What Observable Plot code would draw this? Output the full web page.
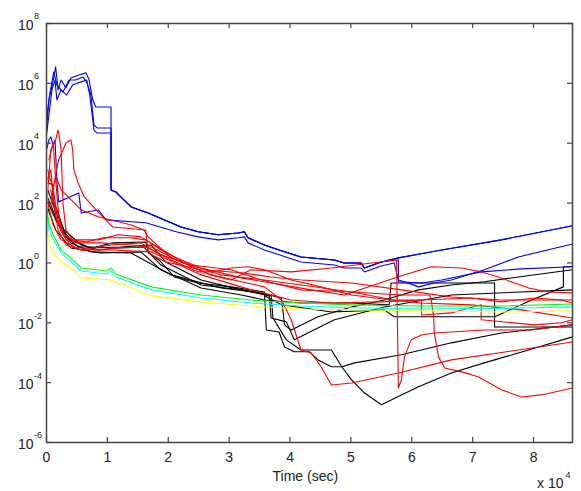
<!DOCTYPE html>
<html>
<head>
<meta charset="utf-8">
<script src="https://cdn.jsdelivr.net/npm/d3@7"></script>
<script src="https://cdn.jsdelivr.net/npm/@observablehq/plot@0.6"></script>
<style>
  html, body { margin: 0; padding: 0; background: #fff; }
  #chart svg { display: block; font-family: "Liberation Sans", Arial, sans-serif; }
</style>
</head>
<body>
<div id="chart"></div>
<script>
// Time in units of 10^4 sec; values given as log10 of the plotted quantity.
const xTicks = [0, 1, 2, 3, 4, 5, 6, 7, 8];
const yExps = [-6, -4, -2, 0, 2, 4, 6, 8];
const xLabel = "Time (sec)";

const blue1 = [[0,4.44],[0.04,5.45],[0.11,6.11],[0.15,6.55],[0.19,5.78],[0.24,6.11],[0.32,5.85],[0.40,6.18],[0.53,6.28],[0.65,6.35],[0.70,6.11],[0.76,5.45],[0.81,5.21],[1.06,5.21],[1.06,2.44],[1.14,2.37],[1.22,2.21],[1.39,1.87],[1.67,1.67],[1.93,1.44],[2.21,1.20],[2.49,1.04],[2.82,0.94],[3.15,1.00],[3.25,1.04],[3.31,0.84],[3.58,0.60],[3.82,0.43],[4.18,0.20],[4.73,0.10],[4.89,0.00],[5.17,0.00],[5.22,-0.17],[5.50,0.03],[5.78,0.17],[6.49,0.43],[7.47,0.77],[8.64,1.24]];
const blue2 = [[0,4.28],[0.04,4.95],[0.09,5.78],[0.14,6.11],[0.17,5.45],[0.24,5.78],[0.33,5.61],[0.43,5.95],[0.57,6.05],[0.66,6.11],[0.71,5.61],[0.78,4.44],[0.83,4.34],[1.06,4.34],[1.06,2.44],[1.14,2.37],[1.22,2.21],[1.39,1.87],[1.67,1.67],[1.93,1.44],[2.21,1.20],[2.49,1.04],[2.82,0.94],[3.15,1.00],[3.25,1.04],[3.31,0.84],[3.58,0.60],[3.82,0.43],[4.18,0.20],[4.73,0.10],[4.89,0.00],[5.17,0.00],[5.22,-0.17],[5.50,0.03],[5.71,0.10],[5.78,0.10],[5.78,-0.63],[6.16,-0.67],[6.49,-0.57],[7.14,-0.30],[7.80,-0.20],[8.64,-0.13]];
const blue3 = [[0,4.78],[0.05,5.61],[0.12,6.38],[0.17,5.95],[0.27,5.71],[0.37,6.11],[0.48,6.11],[0.60,6.21],[0.66,6.05],[0.73,5.61],[0.78,4.61],[0.83,4.51],[1.06,4.51],[1.06,2.44],[1.14,2.37],[1.22,2.21],[1.39,1.87],[1.67,1.67],[1.93,1.44],[2.21,1.20],[2.49,1.04],[2.82,0.94],[3.15,1.00],[3.25,1.04],[3.31,0.84],[3.58,0.60],[3.82,0.43],[4.18,0.20],[4.73,0.10],[4.89,0.00],[5.17,0.00],[5.22,-0.17],[5.50,0.03],[5.78,0.17],[6.49,0.43],[7.47,0.77],[8.64,1.24]];
const blue4 = [[0,3.78],[0.04,4.11],[0.07,4.21],[0.11,3.94],[0.14,4.11],[0.17,2.77],[0.20,2.04],[0.53,2.34],[0.57,1.67],[0.85,1.77],[0.98,1.44],[1.63,1.34],[2.13,1.04],[2.49,0.87],[2.82,0.77],[3.15,0.84],[3.25,0.87],[3.31,0.67],[3.58,0.43],[3.82,0.27],[4.18,0.03],[4.73,-0.07],[4.89,-0.17],[5.17,-0.17],[5.22,-0.30],[5.50,-0.10],[5.71,0.00],[5.78,-0.57],[5.88,-0.63],[6.11,-0.80],[6.37,-0.67],[6.65,-0.57],[7.19,-0.23],[7.75,0.20],[8.64,0.63]];

const red1 = [[0.01,2.10],[0.07,3.78],[0.15,4.11],[0.19,4.44],[0.20,4.34],[0.24,3.78],[0.27,2.00],[0.32,1.10],[0.43,0.77],[0.65,0.70],[0.93,0.84],[1.36,0.84],[1.63,0.77],[1.88,0.43],[2.13,0.17],[2.54,-0.17],[3.20,-0.50],[3.69,-0.67],[4.35,-0.90],[4.89,-1.07],[5.83,-0.43],[6.32,-0.13],[6.82,-0.17],[7.14,-0.30],[7.42,-0.47],[7.69,-0.67],[7.92,-0.84],[8.25,-0.97],[8.64,-1.00]];
const red2 = [[0.07,1.94],[0.15,2.94],[0.20,3.44],[0.32,4.01],[0.40,4.11],[0.43,3.78],[0.45,3.11],[0.52,2.67],[0.62,2.21],[0.86,1.67],[1.09,1.20],[1.63,1.10],[1.67,0.33],[1.96,0.03],[2.54,-0.23],[3.20,-0.33],[3.69,-0.47],[4.18,-0.57],[5.01,-0.67],[5.83,-0.90],[6.65,-1.14],[7.47,-1.24],[8.64,-1.24]];
const red3 = [[0.15,2.94],[0.24,2.44],[0.57,1.77],[0.85,1.54],[1.39,1.27],[1.60,1.10],[1.67,0.87],[2.05,0.17],[2.70,-0.40],[3.58,-0.80],[3.86,-1.24],[4.02,-1.90],[4.18,-2.91],[4.35,-3.01],[4.51,-3.47],[4.68,-4.08],[5.01,-4.01],[5.78,-3.68],[6.65,-3.24],[7.75,-2.91],[8.64,-2.64]];
const red4 = [[0.04,3.44],[0.11,4.01],[0.15,2.77],[0.20,1.60],[0.27,0.94],[0.43,0.53],[0.81,0.43],[1.19,0.50],[1.63,0.53],[2.05,0.10],[2.49,-0.30],[2.75,-0.30],[3.03,-0.17],[3.31,-0.13],[3.58,-0.23],[4.02,-0.57],[4.51,-0.80],[5.01,-1.07],[5.66,-1.24],[6.16,-1.34],[6.98,-1.40],[7.80,-1.57],[8.64,-1.84]];
const red5 = [[0.02,3.11],[0.11,2.44],[0.19,1.44],[0.32,0.77],[0.45,0.77],[0.85,0.77],[1.17,0.94],[1.55,0.87],[1.83,0.53],[2.10,0.20],[2.38,-0.13],[2.70,-0.40],[3.03,-0.57],[3.36,-0.23],[4.02,-0.30],[4.68,-0.17],[5.34,0.00],[5.75,0.10],[5.78,-4.18],[5.83,-3.91],[5.88,-3.14],[5.99,-2.57],[6.16,-2.41],[6.37,-2.34],[7.19,-2.24],[7.97,-2.24],[8.64,-2.07]];
const red6 = [[0.01,2.77],[0.07,3.11],[0.12,2.10],[0.19,1.10],[0.32,0.60],[0.57,0.43],[1.06,0.60],[1.55,0.67],[1.88,0.27],[2.38,-0.07],[3.03,-0.23],[3.53,-0.57],[4.18,-0.90],[5.01,-0.97],[5.83,-1.07],[6.29,-1.07],[6.32,-1.24],[6.36,-1.80],[6.37,-2.34],[6.44,-3.14],[6.54,-3.51],[6.82,-3.64],[7.10,-3.81],[7.47,-4.24],[7.80,-4.48],[8.13,-4.41],[8.64,-4.18]];
const red7 = [[0.07,2.44],[0.15,1.60],[0.24,1.04],[0.48,0.67],[0.89,0.67],[1.39,0.60],[1.72,0.53],[2.21,0.03],[2.87,-0.40],[3.58,-0.57],[4.18,-0.74],[5.01,-0.97],[5.71,-1.24],[6.16,-1.24],[6.16,-1.74],[6.65,-1.67],[7.14,-1.40],[7.14,-1.90],[8.02,-2.07],[8.46,-2.00],[8.64,-1.90]];
const red8 = [[0.01,2.10],[0.11,1.27],[0.24,0.77],[0.57,0.43],[1.06,0.43],[1.72,0.37],[2.54,-0.40],[3.36,-0.90],[4.02,-1.24],[4.68,-1.34],[5.50,-1.30],[6.16,-1.24],[6.98,-1.17],[7.47,-1.30],[8.02,-1.17],[8.46,-1.24],[8.64,-1.34]];

const black1 = [[0.02,2.67],[0.11,2.61],[0.11,2.10],[0.19,1.67],[0.32,0.87],[0.53,0.53],[0.81,0.53],[1.09,0.67],[1.63,0.70],[1.68,0.33],[1.85,0.10],[2.10,-0.47],[2.49,-0.67],[3.03,-0.80],[3.58,-0.97],[3.61,-2.24],[3.82,-2.31],[3.91,-2.81],[4.07,-2.97],[4.32,-2.97],[4.46,-3.24],[4.68,-3.47],[4.85,-3.47],[5.01,-3.91],[5.22,-4.34],[5.50,-4.74],[6.11,-4.14],[6.65,-3.68],[7.19,-3.34],[7.75,-3.01],[8.64,-2.47]];
const black2 = [[0.02,2.44],[0.12,1.87],[0.29,1.10],[0.57,0.60],[0.85,0.43],[1.17,0.50],[1.60,0.53],[1.88,-0.07],[2.54,-0.74],[3.20,-0.90],[3.69,-1.07],[3.72,-1.84],[3.94,-2.57],[4.18,-2.91],[4.68,-2.91],[4.85,-3.47],[5.06,-3.34],[5.83,-3.07],[6.65,-2.67],[7.47,-2.34],[8.64,-2.07]];
const black3 = [[0.01,2.10],[0.15,1.44],[0.40,0.67],[0.73,0.37],[1.39,0.33],[2.05,-0.40],[2.87,-0.84],[3.53,-1.00],[3.86,-1.17],[3.91,-2.07],[4.02,-2.24],[4.46,-1.80],[5.01,-1.47],[5.55,-1.24],[6.11,-0.90],[6.65,-0.74],[7.19,-0.63],[7.75,-0.47],[8.64,-0.23]];
const black4 = [[0,2.27],[0.07,1.94],[0.20,1.27],[0.40,0.77],[0.73,0.50],[1.22,0.53],[1.72,0.60],[1.96,0.03],[2.54,-0.57],[3.20,-0.90],[3.44,-1.00],[3.66,-1.10],[3.69,-1.84],[3.94,-1.97],[4.07,-2.57],[4.73,-1.90],[5.55,-1.47],[6.65,-1.07],[8.64,-0.90]];
const black5 = [[0,1.94],[0.15,1.10],[0.40,0.50],[0.89,0.33],[1.55,0.37],[1.88,-0.23],[2.54,-0.84],[3.20,-1.07],[3.58,-1.24],[4.18,-1.34],[5.01,-1.34],[5.63,-1.40],[5.66,-0.67],[7.36,-0.67],[7.36,-2.14],[8.64,-2.14]];
const black6 = [[3.58,-1.10],[3.86,-1.40],[4.68,-1.64],[5.55,-1.57],[5.71,-1.80],[7.36,-1.80],[7.97,-1.24],[8.49,-0.80],[8.49,-0.13],[8.64,-0.13]];

const green1 = [[0.01,1.80],[0.04,1.30],[0.11,0.94],[0.24,0.43],[0.43,0.10],[0.57,-0.17],[0.98,-0.27],[1.06,-0.17],[1.14,-0.37],[1.72,-0.80],[2.54,-1.07],[3.36,-1.24],[4.18,-1.34],[5.01,-1.40],[6.16,-1.44],[7.47,-1.44],[8.64,-1.37]];
const cyan1 = [[0.01,1.60],[0.04,1.10],[0.11,0.80],[0.24,0.33],[0.43,0.00],[0.57,-0.27],[0.98,-0.37],[1.06,-0.27],[1.14,-0.47],[1.72,-0.90],[2.54,-1.17],[3.36,-1.34],[4.18,-1.44],[5.01,-1.50],[6.16,-1.54],[7.47,-1.52],[8.64,-1.47]];
const yellow1 = [[0,4.00],[0.01,2.10],[0.02,0.94],[0.07,0.50],[0.15,0.23],[0.27,0.00],[0.43,-0.23],[0.57,-0.50],[1.06,-0.57],[1.72,-1.10],[2.54,-1.30],[3.36,-1.44],[4.18,-1.54],[5.01,-1.57],[6.16,-1.60],[7.47,-1.64],[8.64,-1.60]];

const series = [
  {color: "#000000", pts: black1}, {color: "#000000", pts: black2}, {color: "#000000", pts: black3},
  {color: "#000000", pts: black4}, {color: "#000000", pts: black5}, {color: "#000000", pts: black6},
  {color: "#0000ff", pts: blue1}, {color: "#0000ff", pts: blue2}, {color: "#0000ff", pts: blue3}, {color: "#0000ff", pts: blue4},
  {color: "#ff0000", pts: red1}, {color: "#ff0000", pts: red2}, {color: "#ff0000", pts: red3}, {color: "#ff0000", pts: red4},
  {color: "#ff0000", pts: red5}, {color: "#ff0000", pts: red6}, {color: "#ff0000", pts: red7}, {color: "#ff0000", pts: red8},
  {color: "#ffff00", pts: yellow1}, {color: "#00ffff", pts: cyan1}, {color: "#00ff00", pts: green1}
];

const W = 581, H = 491, mL = 46, mR = 9, mT = 23, mB = 49;
const plotH = H - mT - mB, plotW = W - mL - mR;
const axisColor = "#444";
const textColor = "#222";

const lineMarks = series.map(s => Plot.line(s.pts, {
  x: d => d[0], y: d => Math.pow(10, d[1]), stroke: s.color, strokeWidth: 1.1, curve: "linear"
}));

const chart = Plot.plot({
  width: W, height: H,
  marginLeft: mL, marginRight: mR, marginTop: mT, marginBottom: mB,
  style: {fontFamily: "'Liberation Sans', Arial, sans-serif", background: "#fff"},
  x: {domain: [0, 8.64], axis: null},
  y: {type: "log", domain: [1e-6, 1e8], axis: null},
  marks: [
    ...lineMarks,
    Plot.frame({stroke: axisColor, strokeWidth: 1.5}),
    Plot.tickX(xTicks, {x: d => d, stroke: axisColor, strokeWidth: 1.2, insetTop: plotH - 5}),
    Plot.tickX(xTicks, {x: d => d, stroke: axisColor, strokeWidth: 1.2, insetBottom: plotH - 5}),
    Plot.tickY(yExps, {y: d => Math.pow(10, d), stroke: axisColor, strokeWidth: 1.2, insetRight: plotW - 5}),
    Plot.tickY(yExps, {y: d => Math.pow(10, d), stroke: axisColor, strokeWidth: 1.2, insetLeft: plotW - 5}),
    Plot.text(xTicks, {x: d => d, y: 1e-6, text: d => String(d), dy: 15, fontSize: 14, fill: textColor}),
    Plot.text(yExps, {x: 0, y: d => Math.pow(10, d), text: () => "10", dx: -13, dy: 2, textAnchor: "end", fontSize: 14, fill: textColor}),
    Plot.text(yExps, {x: 0, y: d => Math.pow(10, d), text: d => String(d), dx: -12.5, dy: -7, textAnchor: "start", fontSize: 9, fill: textColor}),
    Plot.text([xLabel], {x: 4.3, y: 1e-6, text: d => d, dx: -3, dy: 34, fontSize: 14, fill: textColor}),
    Plot.text(["x 10"], {x: 8.64, y: 1e-6, text: d => d, dx: -9, dy: 41, textAnchor: "end", fontSize: 14, fill: textColor}),
    Plot.text(["4"], {x: 8.64, y: 1e-6, text: d => d, dx: -7, dy: 33, textAnchor: "start", fontSize: 9, fill: textColor})
  ]
});
document.getElementById("chart").appendChild(chart);
</script>
</body>
</html>
